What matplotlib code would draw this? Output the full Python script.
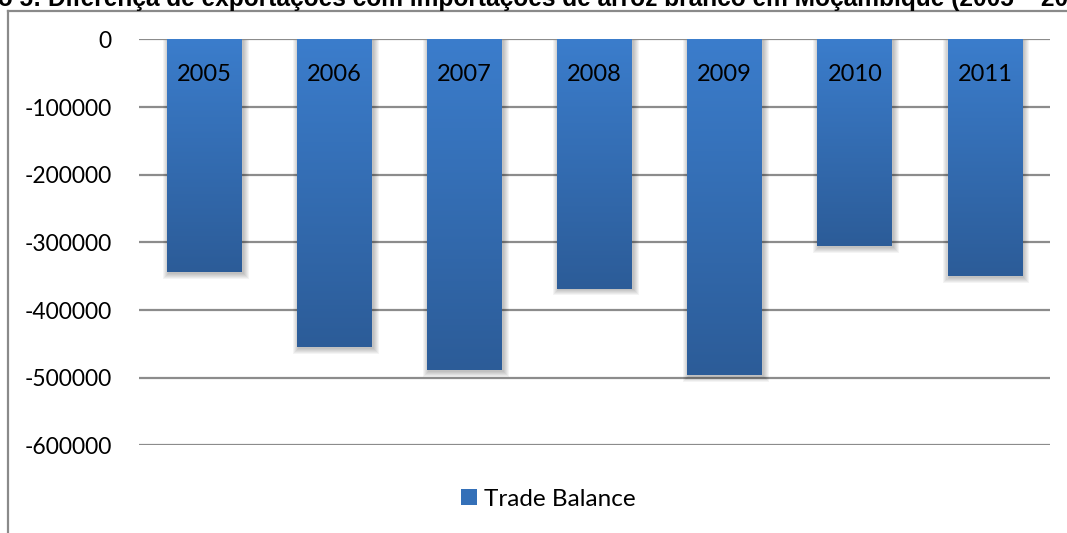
import numpy as np
import matplotlib.pyplot as plt
from matplotlib.colors import LinearSegmentedColormap
from matplotlib.patches import Patch, Rectangle
from matplotlib.lines import Line2D

# Trade balance of white rice in Mozambique (exports minus imports), tonnes
years = ['2005', '2006', '2007', '2008', '2009', '2010', '2011']
balance = [-344000, -455000, -488000, -368000, -496000, -305000, -349000]
yticks = [0, -100000, -200000, -300000, -400000, -500000, -600000]

title = ('Gráfico 5: Diferença de exportações com importações de arroz branco '
         'em Moçambique (2005 – 2011)')

plt.rcParams['font.family'] = ['Lato', 'DejaVu Sans']

fig = plt.figure(figsize=(10.67, 5.33), dpi=100)
ax = fig.add_axes([0.1307, 0.1642, 0.984 - 0.1307, 0.9259 - 0.1642])

x = np.arange(len(years))
bars = ax.bar(x, balance, width=0.575, color='none', zorder=3)

# vertical gradient, lighter at the top of each bar
grad = LinearSegmentedColormap.from_list('bar', ['#2c5c98', '#3b7dcc'])
g = np.linspace(0, 1, 256).reshape(-1, 1)
for b in bars:
    x0, w = b.get_x(), b.get_width()
    y0 = b.get_y() + b.get_height()
    ax.imshow(g, cmap=grad, extent=[x0, x0 + w, y0, 0], origin='lower',
              aspect='auto', zorder=3)
    # soft drop shadow
    for k in range(6):
        dx = (1 + k) / 130
        dy = (1 + k) * 1450
        ax.add_patch(Rectangle((x0 + 2 / 130 - dx, y0 - 1450 - dy),
                               w + 2 * dx - 1 / 130, -y0 + dy,
                               facecolor='black', edgecolor='none',
                               alpha=0.045, zorder=2))

# year labels inside the bars
for xi, yr in zip(x, years):
    ax.text(xi, -51000, yr, ha='center', va='center', fontsize=17,
            color='black', zorder=4)

ax.set_xlim(-0.5, len(years) - 0.5)
ax.set_ylim(-600000, 0)
ax.set_yticks(yticks)
ax.set_yticklabels([str(v) for v in yticks], fontsize=16.5)
ax.tick_params(axis='y', length=0, pad=20)
ax.set_xticks([])
for s in ax.spines.values():
    s.set_visible(False)
ax.yaxis.grid(True, color='#8c8c8c', linewidth=1.6, zorder=1)
ax.set_axisbelow(True)

ax.legend(handles=[Patch(facecolor='#3470b8', label='Trade Balance')],
          loc='center', bbox_to_anchor=(0.449, -0.132), frameon=False,
          fontsize=17.5, handlelength=0.65, handleheight=0.65,
          handletextpad=0.3)

# outer chart frame
fig.add_artist(Line2D([8 / 1067, 8 / 1067], [0, 1 - 11 / 533],
                      transform=fig.transFigure, color='#8a8a8a', lw=1.6))
fig.add_artist(Line2D([8 / 1067, 1], [1 - 11 / 533, 1 - 11 / 533],
                      transform=fig.transFigure, color='#8a8a8a', lw=1.6))

# figure title, wider than the figure so it runs off both sides
tfont = dict(family='Liberation Sans', fontweight='bold')
fig.canvas.draw()
r = fig.canvas.get_renderer()
probe = fig.text(0, 0, 'o 5: Diferença de exportações com importações de arroz '
                 'branco em Moçambique (2005 – 20', fontsize=10, **tfont)
size = 10 * 1072 / probe.get_window_extent(r).width
probe.remove()
probe = fig.text(0, 0, 'Gráfic', fontsize=size, **tfont)
wpx = probe.get_window_extent(r).width
probe.remove()
fig.text(-(wpx + 2) / 1067, 1 - 6 / 533, title, ha='left', va='baseline',
         fontsize=size, color='black', **tfont)

fig.savefig('out.png', dpi=100)
